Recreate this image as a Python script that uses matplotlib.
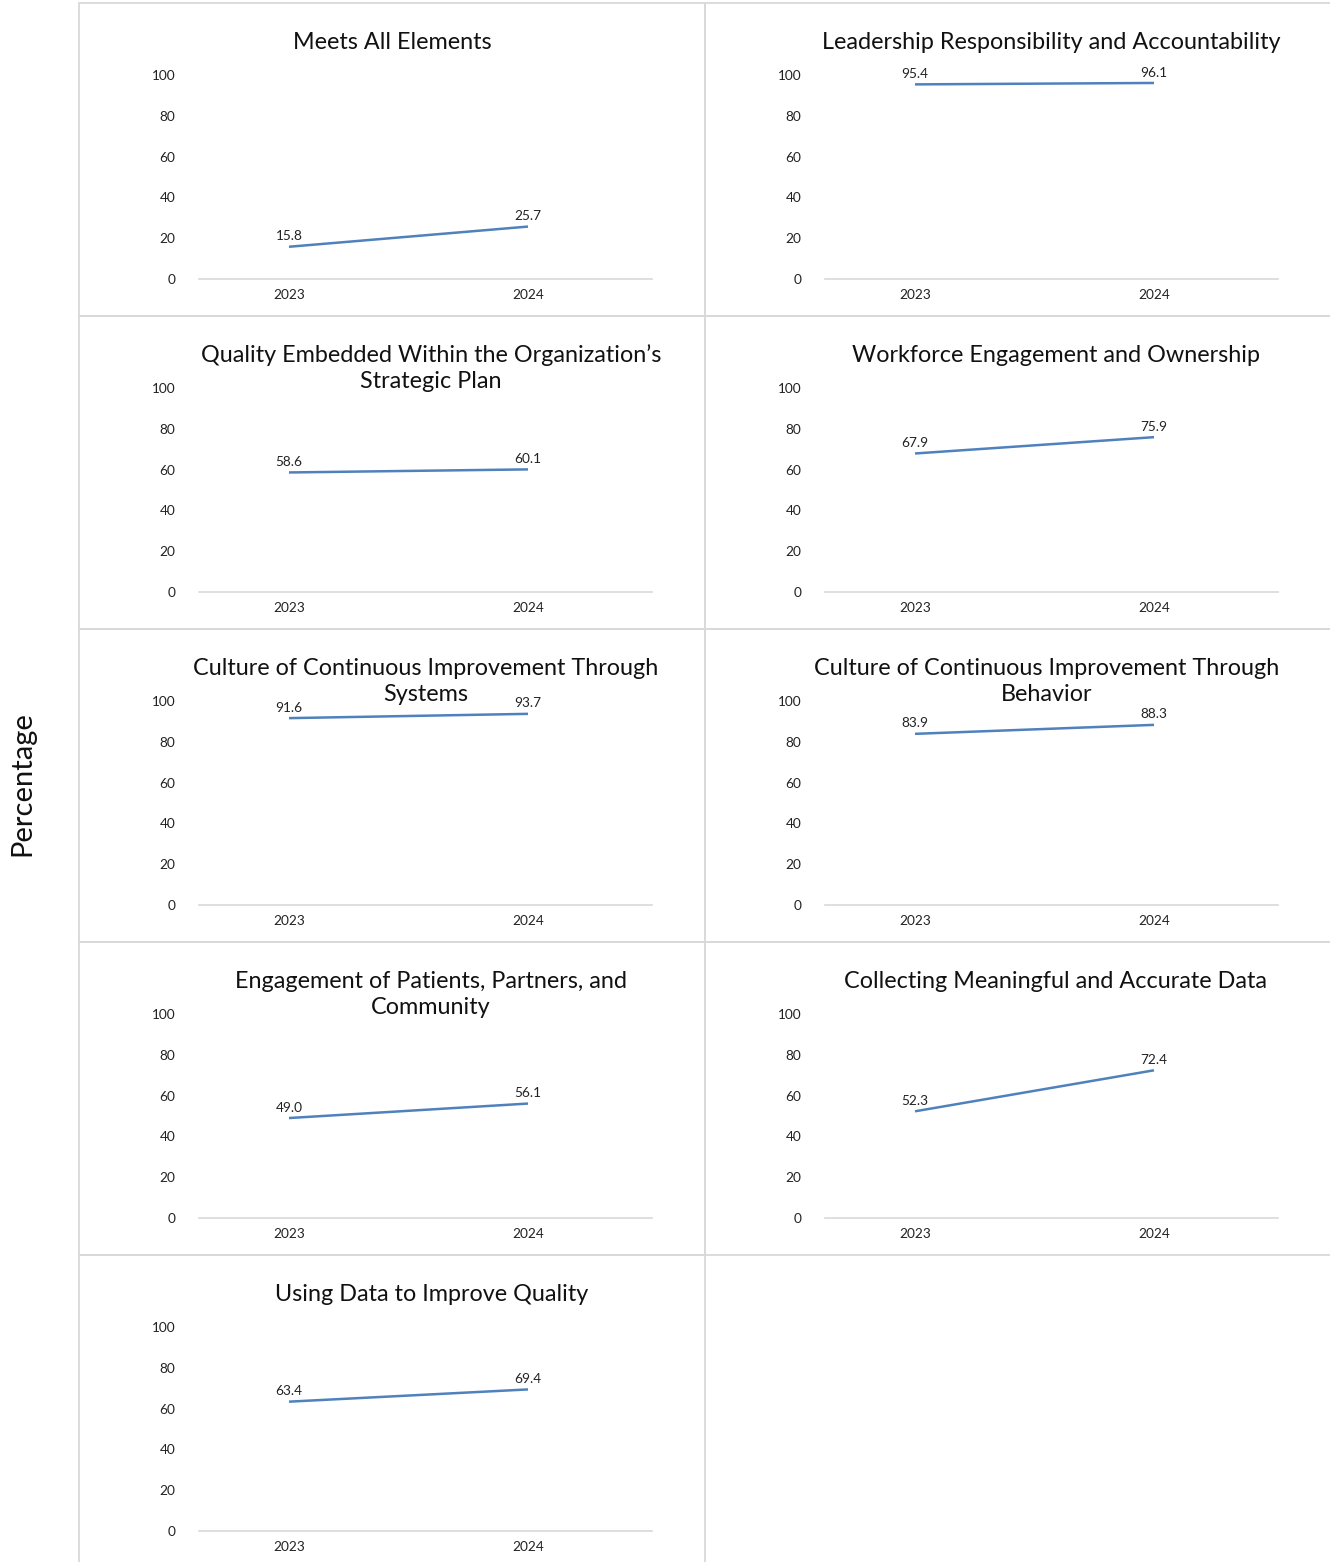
import matplotlib
matplotlib.use("Agg")
import matplotlib.pyplot as plt
from matplotlib.patches import Rectangle

plt.rcParams['font.family'] = ['Lato', 'DejaVu Sans']

years = ["2023", "2024"]
titles = [
    "Meets All Elements",
    "Leadership Responsibility and Accountability",
    "Quality Embedded Within the Organization\u2019s\nStrategic Plan",
    "Workforce Engagement and Ownership",
    "Culture of Continuous Improvement Through\nSystems",
    "Culture of Continuous Improvement Through\nBehavior",
    "Engagement of Patients, Partners, and\nCommunity",
    "Collecting Meaningful and Accurate Data",
    "Using Data to Improve Quality",
]
v2023 = [15.8, 95.4, 58.6, 67.9, 91.6, 83.9, 49.0, 52.3, 63.4]
v2024 = [25.7, 96.1, 60.1, 75.9, 93.7, 88.3, 56.1, 72.4, 69.4]
yticks = [0, 20, 40, 60, 80, 100]

# layout (pixels)
W, H = 1330, 1562
panel_lefts = [79, 705]
panel_tops = [3, 316, 629, 942, 1255]
panel_w, panel_h = 626, 313
title_dx = [313, 346, 352, 351, 347, 342, 352, 351, 353]

LINE = '#4f81bd'
GRID = '#d9d9d9'

fig = plt.figure(figsize=(W / 100, H / 100), dpi=100)

def fx(px):
    return px / W

def fy(py):
    return 1 - py / H

for i, title in enumerate(titles):
    L = panel_lefts[i % 2]
    T = panel_tops[i // 2]
    # panel border
    fig.patches.append(Rectangle((fx(L), fy(T + panel_h)), panel_w / W, panel_h / H,
                                 transform=fig.transFigure, fill=False,
                                 edgecolor=GRID, linewidth=1.3, zorder=0))
    ax = fig.add_axes([fx(L + 120), fy(T + 276), 453 / W, 204 / H])
    xs = list(range(len(years)))
    vals = [v2023[i], v2024[i]]
    ax.plot(xs, vals, color=LINE, linewidth=1.8, solid_capstyle='butt')
    for x, v in zip(xs, vals):
        ax.annotate(f"{v:.1f}", (x, v), xytext=(0, 7.5), textcoords='offset points',
                    ha='center', va='center', fontsize=9.8, color='#222222')
    ax.set_ylim(0, 100)
    ax.set_xlim(-90 / 239, 1 + 124 / 239)
    ax.set_yticks(yticks)
    ax.set_yticklabels([str(t) for t in yticks], fontsize=9.8, color='#222222')
    ax.set_xticks(xs)
    ax.set_xticklabels(years, fontsize=9.8, color='#222222')
    ax.tick_params(axis='y', length=0, pad=17)
    ax.tick_params(axis='x', length=0, pad=7.5)
    for s in ['top', 'right', 'left']:
        ax.spines[s].set_visible(False)
    ax.spines['bottom'].set_color(GRID)
    ax.spines['bottom'].set_linewidth(1.2)
    ax.patch.set_alpha(0)
    for k, line in enumerate(title.split("\n")):
        fig.text(fx(L + title_dx[i]), fy(T + 46 + 26 * k), line, ha='center',
                 va='baseline', fontsize=16.8, color='#111111')

fig.text(fx(22), fy(784), "Percentage", rotation=90, ha='center', va='center',
         fontsize=21, color='#111111')

fig.savefig("out.png", dpi=100, facecolor='white')
